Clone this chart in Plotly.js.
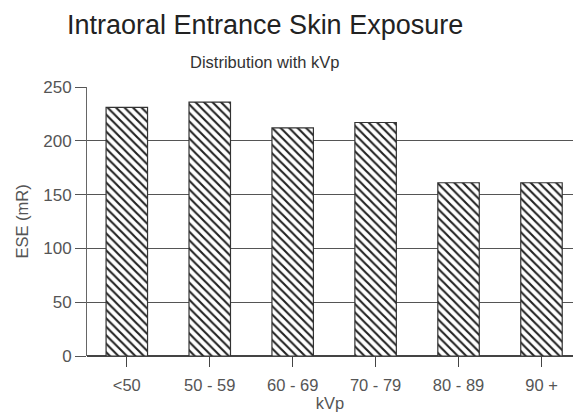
<!DOCTYPE html>
<html><head><meta charset="utf-8">
<script src="https://cdn.plot.ly/plotly-3.0.1.min.js"></script>
<style>html,body{margin:0;padding:0;background:#fff}#c{width:573px;height:415px}</style>
</head><body><div id="c"></div>
<script>
const categories = ["<50", "50 - 59", "60 - 69", "70 - 79", "80 - 89", "90 +"];
const eseValues = [231, 236, 212, 217, 161, 161];
const yTicks = [0, 50, 100, 150, 200, 250];

const trace = {
  type: "bar",
  x: categories,
  y: eseValues,
  width: 0.5,
  marker: {
    color: "#ffffff",
    line: {color: "#333", width: 1.2},
    pattern: {shape: "\\", fgcolor: "#222", bgcolor: "#ffffff", size: 6, solidity: 0.35}
  },
  hoverinfo: "none"
};

const layout = {
  width: 573, height: 415,
  margin: {l: 87, r: 0, t: 87, b: 59},
  paper_bgcolor: "#fff", plot_bgcolor: "#fff",
  font: {family: "Liberation Sans, Arial, sans-serif", color: "#555", size: 16},
  showlegend: false,
  xaxis: {
    type: "category",
    range: [-0.48, 5.38],
    showgrid: false,
    ticks: "outside", ticklen: 10, tickcolor: "#444", tickwidth: 1,
    ticklabelstandoff: 4,
    tickfont: {size: 16.5, color: "#555"},
    showline: false,
    title: {text: "kVp", font: {size: 16.5, color: "#555"}, standoff: 3}
  },
  yaxis: {
    range: [0, 250],
    tickvals: yTicks,
    showgrid: true, gridcolor: "#555", gridwidth: 1,
    zeroline: true, zerolinecolor: "#444", zerolinewidth: 1.5,
    showline: true, linecolor: "#666", linewidth: 1,
    ticks: "outside", ticklen: 11, tickcolor: "#555", tickwidth: 1,
    tickfont: {size: 17, color: "#555"},
    title: {text: "ESE (mR)", font: {size: 16.5, color: "#555"}, standoff: 10}
  },
  annotations: [
    {text: "Intraoral Entrance Skin Exposure", xref: "paper", yref: "paper",
     x: 0.366, y: 1, yshift: 62, xanchor: "center", yanchor: "middle",
     showarrow: false, font: {size: 27, color: "#222"}},
    {text: "Distribution with kVp", xref: "paper", yref: "paper",
     x: 0.366, y: 1, yshift: 25, xanchor: "center", yanchor: "middle",
     showarrow: false, font: {size: 16.5, color: "#333"}}
  ]
};

Plotly.newPlot("c", [trace], layout, {staticPlot: true, displayModeBar: false});
</script>
</body></html>
